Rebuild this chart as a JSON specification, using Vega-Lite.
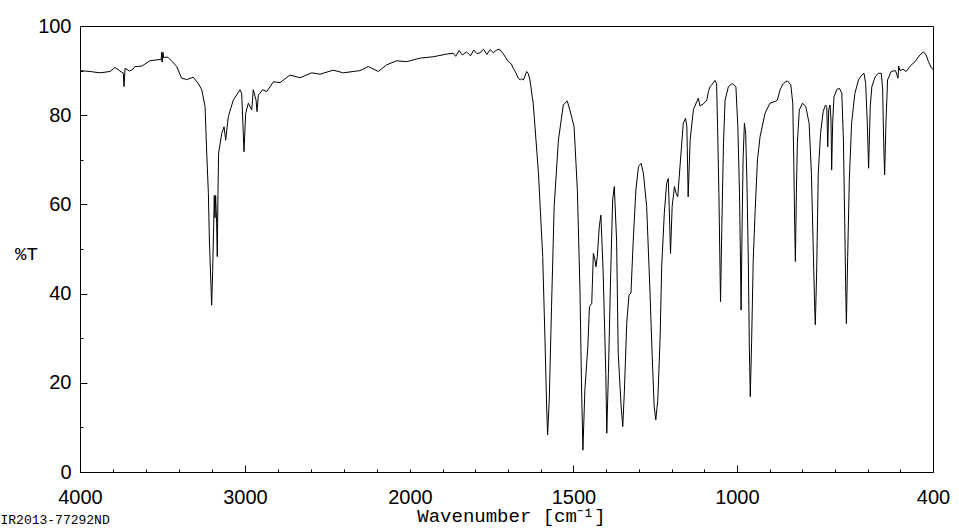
{
  "$schema": "https://vega.github.io/schema/vega-lite/v6.json",
  "width": 853,
  "height": 446,
  "autosize": {"type": "none"},
  "padding": {"left": 80, "top": 26, "right": 26, "bottom": 56},
  "background": "white",
  "config": {
    "view": {"stroke": "black", "strokeWidth": 1},
    "axis": {"domainColor": "black", "tickColor": "black", "labelColor": "black", "titleColor": "black", "grid": false, "tickWidth": 1, "domainWidth": 1}
  },
  "data": {"values": [
    {"wn": 4000, "T": 90.0}, {"wn": 3939, "T": 89.8}, {"wn": 3879, "T": 89.5}, {"wn": 3818, "T": 89.8}, {"wn": 3788, "T": 90.7},
    {"wn": 3745, "T": 89.6}, {"wn": 3738, "T": 89.5}, {"wn": 3733, "T": 86.4}, {"wn": 3727, "T": 90.5}, {"wn": 3700, "T": 89.9},
    {"wn": 3679, "T": 90.3}, {"wn": 3667, "T": 90.9}, {"wn": 3626, "T": 91.0}, {"wn": 3576, "T": 92.2}, {"wn": 3515, "T": 92.5},
    {"wn": 3508, "T": 92.4}, {"wn": 3505, "T": 94.1}, {"wn": 3502, "T": 91.9}, {"wn": 3497, "T": 94.1}, {"wn": 3493, "T": 92.9},
    {"wn": 3485, "T": 93.0}, {"wn": 3467, "T": 93.0}, {"wn": 3440, "T": 92.0}, {"wn": 3414, "T": 90.9}, {"wn": 3384, "T": 88.3},
    {"wn": 3353, "T": 88.0}, {"wn": 3313, "T": 88.5}, {"wn": 3283, "T": 87.1}, {"wn": 3262, "T": 85.7}, {"wn": 3242, "T": 81.9},
    {"wn": 3232, "T": 71.5}, {"wn": 3222, "T": 62.6}, {"wn": 3216, "T": 52.0}, {"wn": 3202, "T": 37.4}, {"wn": 3196, "T": 45.0},
    {"wn": 3190, "T": 55.0}, {"wn": 3186, "T": 62.0}, {"wn": 3182, "T": 57.0}, {"wn": 3178, "T": 62.0}, {"wn": 3172, "T": 56.0},
    {"wn": 3168, "T": 48.3}, {"wn": 3164, "T": 62.0}, {"wn": 3160, "T": 71.5}, {"wn": 3141, "T": 75.9}, {"wn": 3127, "T": 77.4},
    {"wn": 3117, "T": 74.4}, {"wn": 3101, "T": 79.7}, {"wn": 3071, "T": 83.4}, {"wn": 3030, "T": 85.7}, {"wn": 3020, "T": 84.9},
    {"wn": 3006, "T": 71.8}, {"wn": 2996, "T": 80.4}, {"wn": 2980, "T": 82.7}, {"wn": 2959, "T": 81.2}, {"wn": 2950, "T": 85.7},
    {"wn": 2933, "T": 83.4}, {"wn": 2927, "T": 80.8}, {"wn": 2919, "T": 84.5}, {"wn": 2893, "T": 85.7}, {"wn": 2868, "T": 85.3},
    {"wn": 2828, "T": 87.5}, {"wn": 2788, "T": 87.3}, {"wn": 2727, "T": 89.0}, {"wn": 2667, "T": 88.4}, {"wn": 2596, "T": 89.5},
    {"wn": 2545, "T": 89.2}, {"wn": 2465, "T": 90.1}, {"wn": 2404, "T": 89.5}, {"wn": 2303, "T": 90.0}, {"wn": 2253, "T": 90.9},
    {"wn": 2192, "T": 89.8}, {"wn": 2141, "T": 91.3}, {"wn": 2081, "T": 92.2}, {"wn": 2020, "T": 92.0}, {"wn": 1969, "T": 92.8},
    {"wn": 1929, "T": 93.1}, {"wn": 1888, "T": 93.7}, {"wn": 1868, "T": 93.9}, {"wn": 1860, "T": 93.2}, {"wn": 1850, "T": 94.5},
    {"wn": 1840, "T": 93.5}, {"wn": 1827, "T": 94.2}, {"wn": 1815, "T": 93.3}, {"wn": 1805, "T": 94.6}, {"wn": 1795, "T": 93.8},
    {"wn": 1786, "T": 94.0}, {"wn": 1775, "T": 94.8}, {"wn": 1765, "T": 93.6}, {"wn": 1755, "T": 94.7}, {"wn": 1745, "T": 94.0},
    {"wn": 1735, "T": 94.6}, {"wn": 1727, "T": 94.8}, {"wn": 1716, "T": 93.9}, {"wn": 1708, "T": 93.0}, {"wn": 1699, "T": 92.0},
    {"wn": 1690, "T": 91.5}, {"wn": 1684, "T": 90.5}, {"wn": 1676, "T": 89.5}, {"wn": 1669, "T": 88.3}, {"wn": 1663, "T": 87.9},
    {"wn": 1658, "T": 88.2}, {"wn": 1653, "T": 87.9}, {"wn": 1643, "T": 89.8}, {"wn": 1638, "T": 89.3}, {"wn": 1633, "T": 87.9},
    {"wn": 1626, "T": 84.1}, {"wn": 1623, "T": 82.7}, {"wn": 1607, "T": 67.0}, {"wn": 1594, "T": 48.3}, {"wn": 1587, "T": 29.6},
    {"wn": 1582, "T": 14.6}, {"wn": 1579, "T": 8.3}, {"wn": 1574, "T": 16.1}, {"wn": 1567, "T": 37.1}, {"wn": 1559, "T": 59.5},
    {"wn": 1546, "T": 74.4}, {"wn": 1531, "T": 82.3}, {"wn": 1519, "T": 83.2}, {"wn": 1511, "T": 81.2}, {"wn": 1498, "T": 77.4},
    {"wn": 1488, "T": 63.2}, {"wn": 1480, "T": 40.8}, {"wn": 1475, "T": 18.4}, {"wn": 1471, "T": 4.9}, {"wn": 1465, "T": 18.4},
    {"wn": 1456, "T": 28.1}, {"wn": 1451, "T": 37.1}, {"wn": 1444, "T": 37.8}, {"wn": 1439, "T": 49.0}, {"wn": 1434, "T": 47.5},
    {"wn": 1431, "T": 46.0}, {"wn": 1427, "T": 48.3}, {"wn": 1421, "T": 55.0}, {"wn": 1416, "T": 57.6}, {"wn": 1409, "T": 44.6},
    {"wn": 1401, "T": 22.1}, {"wn": 1398, "T": 8.7}, {"wn": 1393, "T": 22.1}, {"wn": 1386, "T": 44.6}, {"wn": 1380, "T": 61.0},
    {"wn": 1375, "T": 64.0}, {"wn": 1368, "T": 52.0}, {"wn": 1363, "T": 26.6}, {"wn": 1354, "T": 14.6}, {"wn": 1349, "T": 10.2},
    {"wn": 1344, "T": 18.4}, {"wn": 1337, "T": 33.3}, {"wn": 1330, "T": 39.7}, {"wn": 1324, "T": 40.1}, {"wn": 1317, "T": 52.0},
    {"wn": 1309, "T": 63.2}, {"wn": 1301, "T": 68.5}, {"wn": 1293, "T": 69.2}, {"wn": 1286, "T": 67.0}, {"wn": 1276, "T": 59.5},
    {"wn": 1266, "T": 40.8}, {"wn": 1259, "T": 25.9}, {"wn": 1253, "T": 14.6}, {"wn": 1248, "T": 11.7}, {"wn": 1242, "T": 16.1},
    {"wn": 1235, "T": 29.6}, {"wn": 1230, "T": 46.0}, {"wn": 1222, "T": 58.0}, {"wn": 1215, "T": 64.7}, {"wn": 1210, "T": 65.8},
    {"wn": 1207, "T": 59.5}, {"wn": 1203, "T": 49.0}, {"wn": 1198, "T": 59.5}, {"wn": 1191, "T": 64.0}, {"wn": 1186, "T": 62.5},
    {"wn": 1181, "T": 61.7}, {"wn": 1174, "T": 68.5}, {"wn": 1164, "T": 78.2}, {"wn": 1157, "T": 79.3}, {"wn": 1153, "T": 77.4},
    {"wn": 1149, "T": 61.7}, {"wn": 1143, "T": 74.4}, {"wn": 1133, "T": 81.2}, {"wn": 1123, "T": 83.0}, {"wn": 1118, "T": 83.8},
    {"wn": 1113, "T": 82.1}, {"wn": 1103, "T": 82.5}, {"wn": 1092, "T": 83.4}, {"wn": 1087, "T": 85.3}, {"wn": 1082, "T": 86.4},
    {"wn": 1077, "T": 86.8}, {"wn": 1067, "T": 87.8}, {"wn": 1062, "T": 87.1}, {"wn": 1059, "T": 77.4}, {"wn": 1055, "T": 62.5},
    {"wn": 1052, "T": 47.5}, {"wn": 1050, "T": 38.2}, {"wn": 1046, "T": 55.0}, {"wn": 1041, "T": 73.7}, {"wn": 1036, "T": 83.4},
    {"wn": 1026, "T": 86.4}, {"wn": 1014, "T": 87.1}, {"wn": 1003, "T": 86.4}, {"wn": 997, "T": 77.4}, {"wn": 992, "T": 62.5},
    {"wn": 989, "T": 47.5}, {"wn": 987, "T": 36.3}, {"wn": 984, "T": 55.0}, {"wn": 981, "T": 70.0}, {"wn": 977, "T": 78.2},
    {"wn": 973, "T": 76.0}, {"wn": 969, "T": 64.0}, {"wn": 965, "T": 47.5}, {"wn": 962, "T": 28.9}, {"wn": 959, "T": 16.9},
    {"wn": 955, "T": 28.9}, {"wn": 950, "T": 47.5}, {"wn": 944, "T": 58.7}, {"wn": 937, "T": 70.0}, {"wn": 929, "T": 75.2},
    {"wn": 914, "T": 80.4}, {"wn": 899, "T": 82.7}, {"wn": 883, "T": 83.1}, {"wn": 876, "T": 83.4}, {"wn": 868, "T": 85.7},
    {"wn": 858, "T": 87.1}, {"wn": 846, "T": 87.7}, {"wn": 835, "T": 86.8}, {"wn": 829, "T": 82.7}, {"wn": 826, "T": 70.0},
    {"wn": 823, "T": 55.0}, {"wn": 821, "T": 47.2}, {"wn": 818, "T": 62.5}, {"wn": 815, "T": 73.7}, {"wn": 809, "T": 81.2},
    {"wn": 799, "T": 82.7}, {"wn": 789, "T": 81.9}, {"wn": 782, "T": 79.3}, {"wn": 779, "T": 78.2}, {"wn": 772, "T": 67.0},
    {"wn": 767, "T": 52.0}, {"wn": 762, "T": 37.1}, {"wn": 760, "T": 33.0}, {"wn": 756, "T": 44.6}, {"wn": 751, "T": 67.0},
    {"wn": 744, "T": 75.9}, {"wn": 736, "T": 80.8}, {"wn": 729, "T": 82.3}, {"wn": 725, "T": 81.9}, {"wn": 722, "T": 72.9},
    {"wn": 719, "T": 81.2}, {"wn": 715, "T": 82.3}, {"wn": 712, "T": 78.9}, {"wn": 710, "T": 67.7}, {"wn": 707, "T": 78.2},
    {"wn": 703, "T": 84.1}, {"wn": 694, "T": 85.8}, {"wn": 686, "T": 86.0}, {"wn": 679, "T": 84.9}, {"wn": 674, "T": 74.4},
    {"wn": 670, "T": 55.8}, {"wn": 667, "T": 40.8}, {"wn": 665, "T": 33.3}, {"wn": 661, "T": 48.3}, {"wn": 656, "T": 65.5},
    {"wn": 649, "T": 78.2}, {"wn": 639, "T": 84.9}, {"wn": 628, "T": 87.9}, {"wn": 618, "T": 89.0}, {"wn": 611, "T": 89.4},
    {"wn": 606, "T": 87.1}, {"wn": 601, "T": 78.2}, {"wn": 597, "T": 68.1}, {"wn": 592, "T": 81.9}, {"wn": 587, "T": 86.4},
    {"wn": 577, "T": 88.6}, {"wn": 567, "T": 89.4}, {"wn": 558, "T": 89.4}, {"wn": 554, "T": 85.7}, {"wn": 551, "T": 74.4},
    {"wn": 548, "T": 66.6}, {"wn": 544, "T": 78.2}, {"wn": 539, "T": 87.9}, {"wn": 528, "T": 89.8}, {"wn": 515, "T": 90.0},
    {"wn": 510, "T": 89.0}, {"wn": 507, "T": 88.3}, {"wn": 505, "T": 91.0}, {"wn": 501, "T": 90.0}, {"wn": 492, "T": 90.3},
    {"wn": 482, "T": 89.8}, {"wn": 470, "T": 91.0}, {"wn": 455, "T": 92.0}, {"wn": 440, "T": 93.5}, {"wn": 429, "T": 94.2},
    {"wn": 421, "T": 93.5}, {"wn": 414, "T": 92.0}, {"wn": 404, "T": 90.5}, {"wn": 400, "T": 90.3}
  ]},
  "layer": [
    {
      "mark": {"type": "line", "color": "black", "strokeWidth": 1, "clip": true},
      "encoding": {
        "x": {
          "field": "wn", "type": "quantitative",
          "scale": {"domain": [4000, 2000, 400], "range": [0, 330, 853], "nice": false, "zero": false},
          "axis": {
            "orient": "bottom",
            "values": [4000, 3800, 3600, 3400, 3200, 3000, 2800, 2600, 2400, 2200, 2000, 1900, 1800, 1700, 1600, 1500, 1400, 1300, 1200, 1100, 1000, 900, 800, 700, 600, 500, 400],
            "format": "d",
            "tickSize": -3,
            "labelExpr": "indexof([4000,3000,2000,1500,1000,400], datum.value) >= 0 ? datum.label : ''",
            "labelFont": "Liberation Sans", "labelFontSize": 20, "labelPadding": 18,
            "labelFlush": false, "labelOverlap": false,
            "title": "Wavenumber [cm⁻¹]",
            "titleFont": "Liberation Mono", "titleFontSize": 19, "titleFontWeight": "normal",
            "titleX": 431, "titleY": 43, "titleAlign": "center", "titleBaseline": "middle"
          }
        },
        "y": {
          "field": "T", "type": "quantitative",
          "scale": {"domain": [0, 100], "nice": false},
          "axis": {
            "orient": "left",
            "values": [0, 10, 20, 30, 40, 50, 60, 70, 80, 90, 100],
            "format": "d",
            "tickSize": -3,
            "labelExpr": "datum.value % 20 === 0 ? datum.label : ''",
            "labelFont": "Liberation Sans", "labelFontSize": 20, "labelPadding": 12,
            "labelFlush": false, "labelOverlap": false,
            "title": "%T", "titleAngle": 0,
            "titleFont": "Liberation Mono", "titleFontSize": 19, "titleFontWeight": "normal",
            "titleX": -54, "titleY": 227, "titleAlign": "center", "titleBaseline": "middle"
          }
        }
      }
    },
    {
      "mark": {"type": "line", "opacity": 0},
      "encoding": {
        "x": {
          "field": "wn", "type": "quantitative",
          "axis": {
            "orient": "bottom",
            "values": [3000, 1500, 1000],
            "tickSize": -7, "labels": false, "domain": false,
            "title": "IR2013-77292ND",
            "titleFont": "Liberation Mono", "titleFontSize": 13, "titleFontWeight": "normal",
            "titleX": -80, "titleY": 47, "titleAlign": "left", "titleBaseline": "middle"
          }
        },
        "y": {
          "field": "T", "type": "quantitative",
          "axis": {
            "orient": "left",
            "values": [20, 40, 60, 80],
            "tickSize": -7, "labels": false, "domain": false, "title": null
          }
        }
      }
    }
  ],
  "resolve": {"axis": {"x": "independent", "y": "independent"}}
}
